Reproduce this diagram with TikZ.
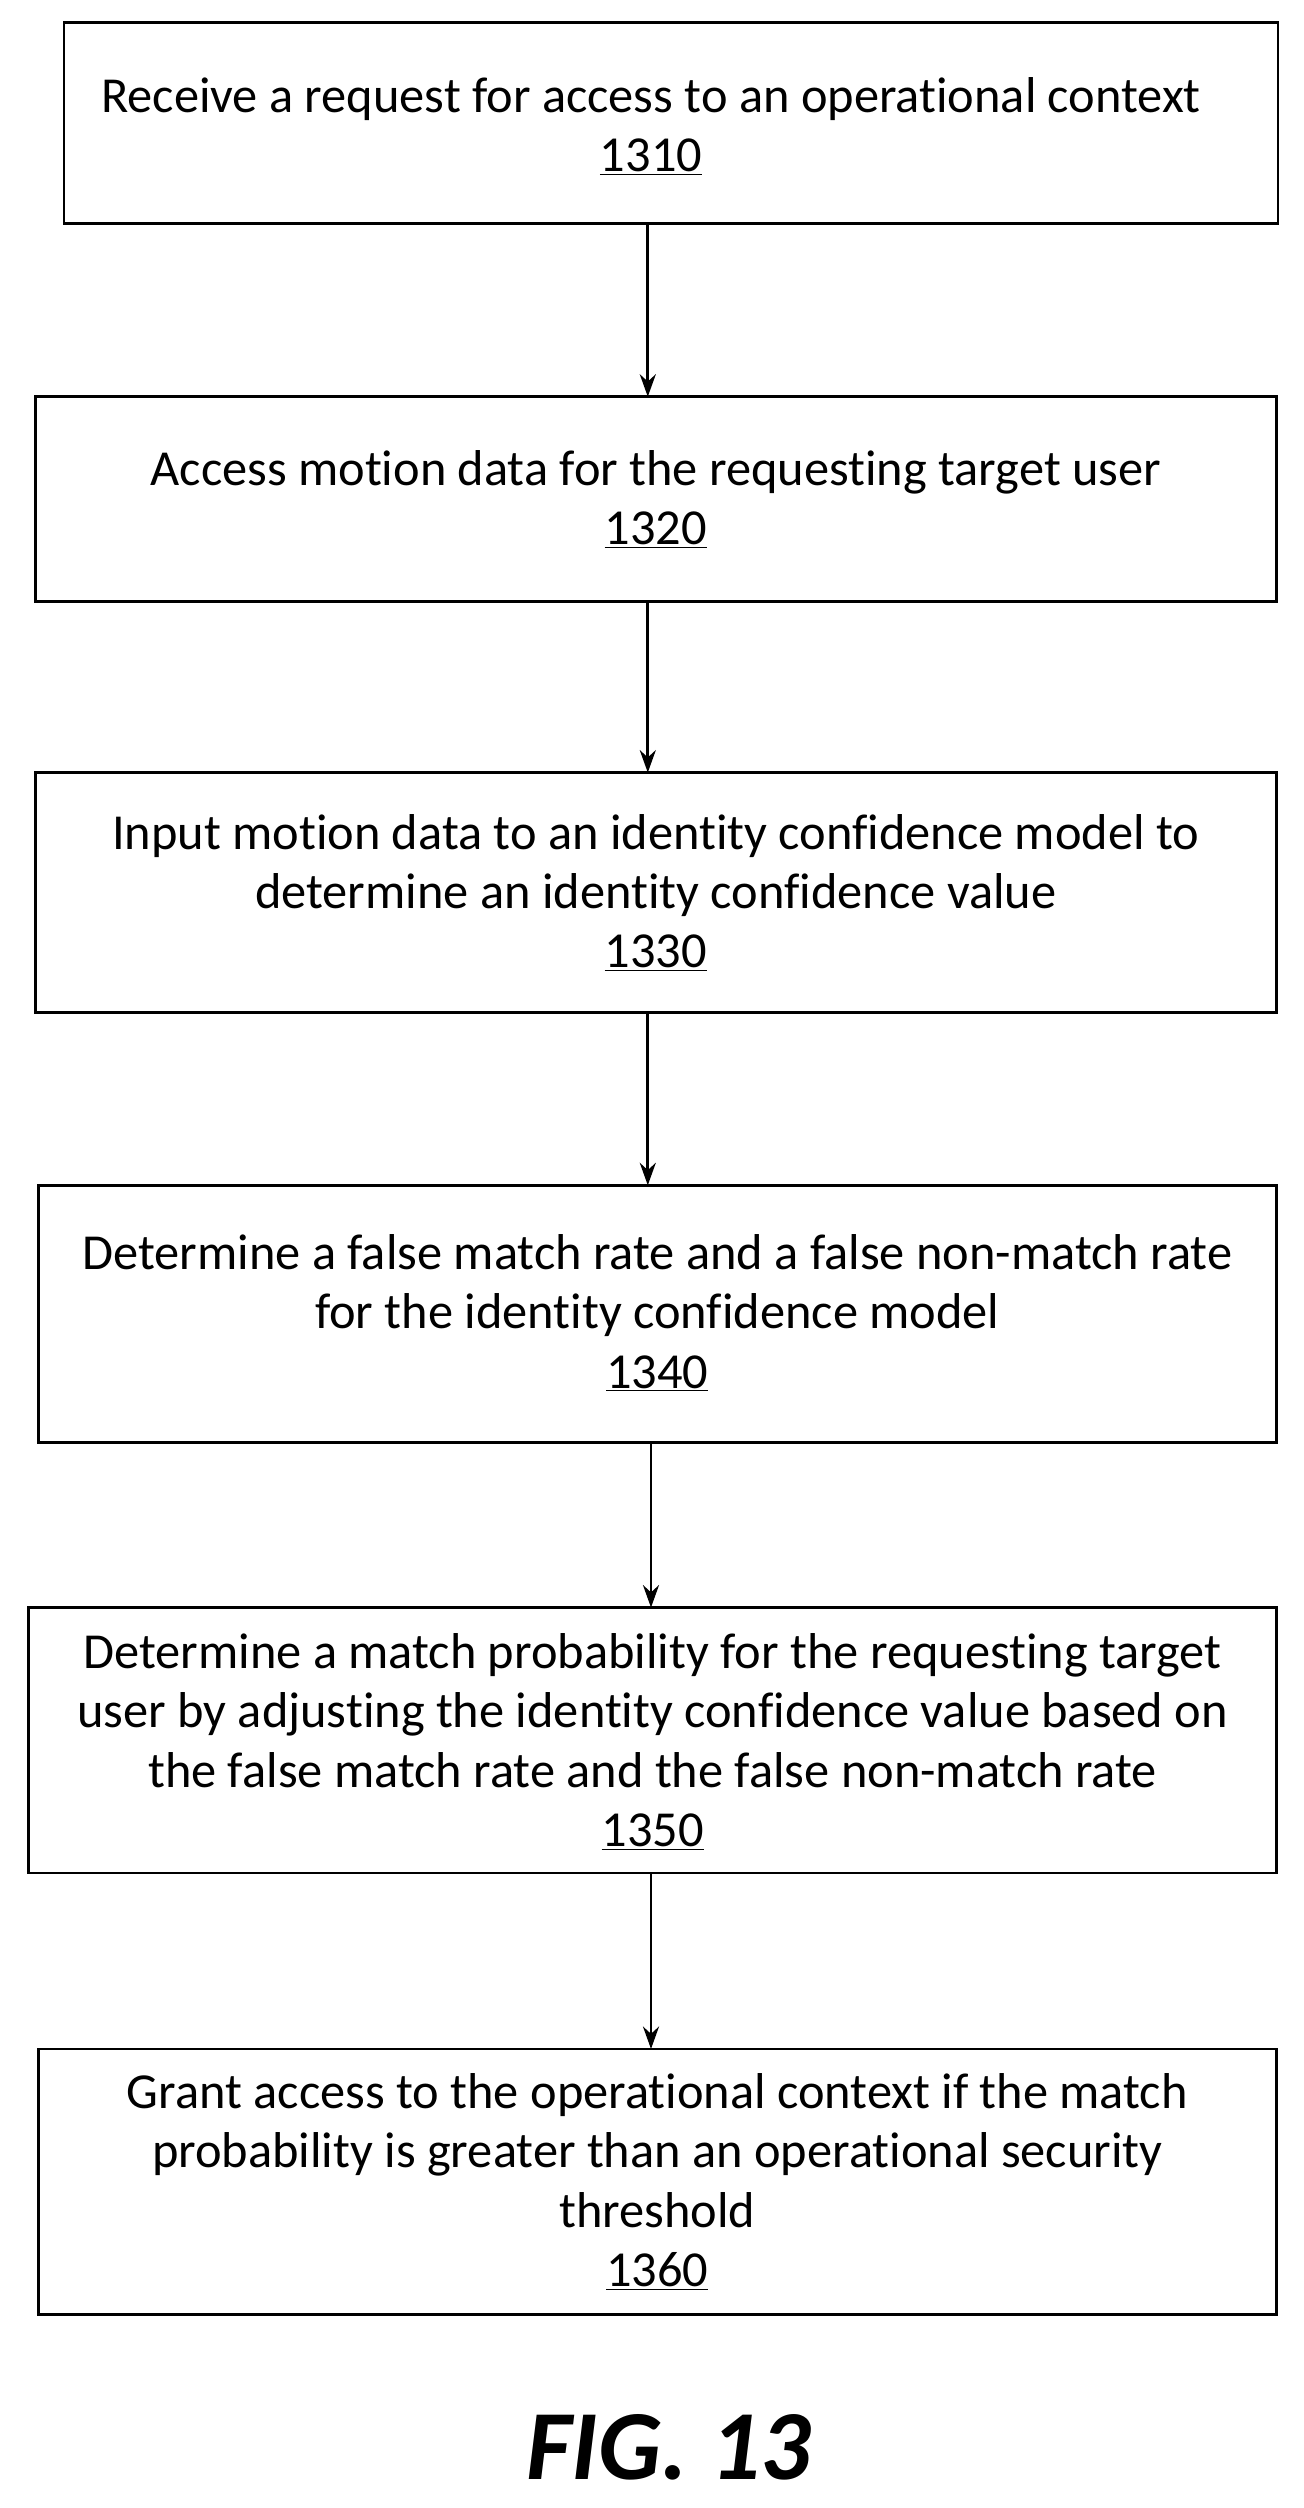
\documentclass[tikz,border=0pt]{standalone}
\usepackage{fontspec}
\setmainfont{Carlito}[RawFeature={-liga}]
\usetikzlibrary{arrows.meta}
\begin{document}
\begin{tikzpicture}[x=1pt,y=-1pt,
  box/.style={draw,line width=1.8pt},
  lbl/.style={align=center,font=\fontsize{31.5}{37}\selectfont},
  arr/.style={-{Stealth[length=14pt,width=10pt]},line width=1.8pt}]
\useasboundingbox (0,0) rectangle (815,1568);
\draw[box] (40,14) rectangle (799,140);
\draw[box] (22,248) rectangle (798,376);
\draw[box] (22,483) rectangle (798,633);
\draw[box] (24,741) rectangle (798,902);
\draw[box] (18,1005) rectangle (798,1171);
\draw[box] (24,1281) rectangle (798,1447);
\node[lbl] (n1) at (407,79) {Receive a request for access to an operational context\\\underline{1310}};
\node[lbl] (n2) at (410,312) {Access motion data for the requesting target user\\\underline{1320}};
\node[lbl] (n3) at (410,558) {Input motion data to an identity confidence model to\\determine an identity confidence value\\\underline{1330}};
\node[lbl] (n4) at (411,821) {Determine a false match rate and a false non-match rate\\for the identity confidence model\\\underline{1340}};
\node[lbl] (n5) at (408,1089) {Determine a match probability for the requesting target\\user by adjusting the identity confidence value based on\\the false match rate and the false non-match rate\\\underline{1350}};
\node[lbl] (n6) at (411,1364) {Grant access to the operational context if the match\\probability is greater than an operational security\\threshold\\\underline{1360}};
\coordinate (a1) at (405,140); \coordinate (a2) at (405,248);
\coordinate (c1) at (405,376); \coordinate (c2) at (405,483);
\coordinate (d1) at (405,633); \coordinate (d2) at (405,741);
\coordinate (e1) at (407,902); \coordinate (e2) at (407,1005);
\coordinate (f1) at (407,1171); \coordinate (f2) at (407,1281);
\draw[arr] (a1)--(a2); \draw[arr] (c1)--(c2); \draw[arr] (d1)--(d2);
\draw[arr] (e1)--(e2); \draw[arr] (f1)--(f2);
\node[font=\fontsize{62}{62}\selectfont\bfseries\itshape] (fig) at (418,1530) {FIG. 13};
\end{tikzpicture}
\end{document}
